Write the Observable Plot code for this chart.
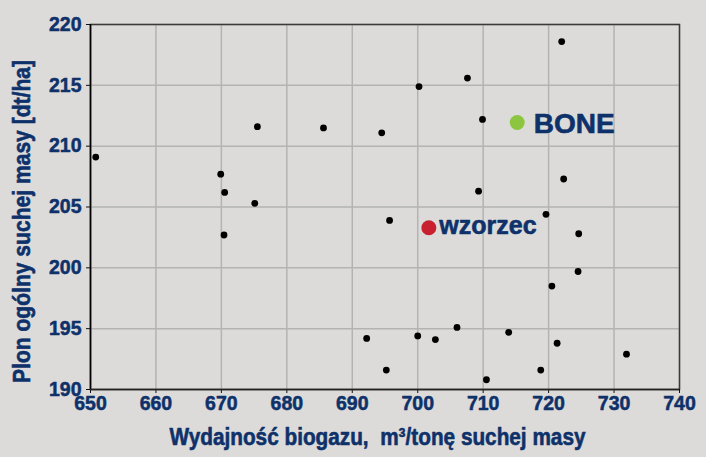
<!DOCTYPE html>
<html>
<head>
<meta charset="utf-8">
<script src="https://cdn.jsdelivr.net/npm/d3@7"></script>
<script src="https://cdn.jsdelivr.net/npm/@observablehq/plot@0.6"></script>
<style>
  html, body { margin: 0; padding: 0; background: #dcdbd9; }
  #chart { width: 706px; height: 457px; }
</style>
</head>
<body>
<div id="chart"></div>
<script>
const xValues = [650.8, 669.9, 670.5, 670.4, 675.1, 675.5, 685.6, 694.5, 700.2, 707.6, 709.9, 722.0, 709.3, 695.7, 719.6, 722.3, 724.6, 724.5, 720.5, 692.2, 700.0, 702.7, 706.0, 713.9, 721.3, 731.9, 695.2, 710.5, 718.8];
const yValues = [209.1, 207.7, 206.2, 202.7, 205.3, 211.6, 211.5, 211.1, 214.9, 215.6, 212.2, 218.6, 206.3, 203.9, 204.4, 207.3, 202.8, 199.7, 198.5, 194.2, 194.4, 194.1, 195.1, 194.7, 193.8, 192.9, 191.6, 190.8, 191.6];
const highlightNames = ["wzorzec", "BONE"];
const highlightX = [701.7, 715.2];
const highlightY = [203.3, 211.95];
const highlightColors = ["#c8202f", "#8cc63f"];
const xTicks = [650, 660, 670, 680, 690, 700, 710, 720, 730, 740];
const yTicks = [190, 195, 200, 205, 210, 215, 220];
const xTitle = "Wydajność biogazu,  m³/tonę suchej masy";
const yTitle = "Plon ogólny suchej masy [dt/ha]";

const navy = "#0e316a";
const points = xValues.map((x, i) => ({x, y: yValues[i]}));
const highlights = highlightNames.map((name, i) => ({name, x: highlightX[i], y: highlightY[i], color: highlightColors[i]}));
const boldText = {fill: navy, stroke: navy, strokeWidth: 0.6, fontWeight: "bold", fontFamily: "Liberation Sans"};
const axisText = {fill: navy, textStroke: navy, textStrokeWidth: 0.5, fontWeight: "bold", fontFamily: "Liberation Sans", fontSize: 19.5};

const chart = Plot.plot({
  width: 706,
  height: 457,
  marginLeft: 90,
  marginRight: 27,
  marginTop: 24,
  marginBottom: 68,
  style: {background: "#dcdbd9", overflow: "visible"},
  x: {domain: [650, 740]},
  y: {domain: [190, 220]},
  marks: [
    Plot.gridX(xTicks, {stroke: "#b3b3b1", strokeOpacity: 1, strokeWidth: 1.5}),
    Plot.gridY(yTicks, {stroke: "#b3b3b1", strokeOpacity: 1, strokeWidth: 1.5}),
    Plot.frame({stroke: "#3a3a3a", strokeWidth: 1.5}),
    Plot.axisX(xTicks, {label: null, tickSize: 4, tickPadding: 3, stroke: "#111", ...axisText}),
    Plot.axisY(yTicks, {label: null, tickSize: 4, tickPadding: 5, stroke: "#111", ...axisText}),
    Plot.ruleX([650], {stroke: "#000", strokeWidth: 1.5}),
    Plot.ruleY([190], {stroke: "#222", strokeWidth: 1.5}),
    Plot.dot(points, {x: "x", y: "y", r: 3.4, fill: "#000", stroke: "none"}),
    Plot.dot(highlights, {x: "x", y: "y", r: 7.5, fill: "color", stroke: "none"}),
    Plot.text(highlights.filter(d => d.name === "wzorzec"), {x: "x", y: "y", text: "name", textAnchor: "start", dx: 10.5, dy: -2,
      fontSize: 25, ...boldText}),
    Plot.text(highlights.filter(d => d.name === "BONE"), {x: "x", y: "y", text: "name", textAnchor: "start", dx: 16.5, dy: 1.5,
      fontSize: 28, ...boldText}),
    Plot.text([xTitle], {frameAnchor: "bottom", dy: 55.8, dx: -7.5, text: d => d, fontSize: 23.5, ...boldText}),
    Plot.text([yTitle], {frameAnchor: "left", dx: -68.2, dy: 14.5, rotate: -90, text: d => d, fontSize: 23.5, ...boldText})
  ]
});
// condense the axis titles to the reference's narrow lettering
function condense(t, len) {
  const x0 = parseFloat(t.getAttribute("x")) || 0;
  t.setAttribute("text-anchor", "start");
  t.setAttribute("x", x0 - len / 2);
  t.setAttribute("textLength", len);
  t.setAttribute("lengthAdjust", "spacingAndGlyphs");
}
chart.querySelectorAll("text").forEach(t => {
  if (t.textContent === xTitle) condense(t, 416);
  else if (t.textContent === yTitle) condense(t, 323);
});
document.getElementById("chart").appendChild(chart);
</script>
</body>
</html>
